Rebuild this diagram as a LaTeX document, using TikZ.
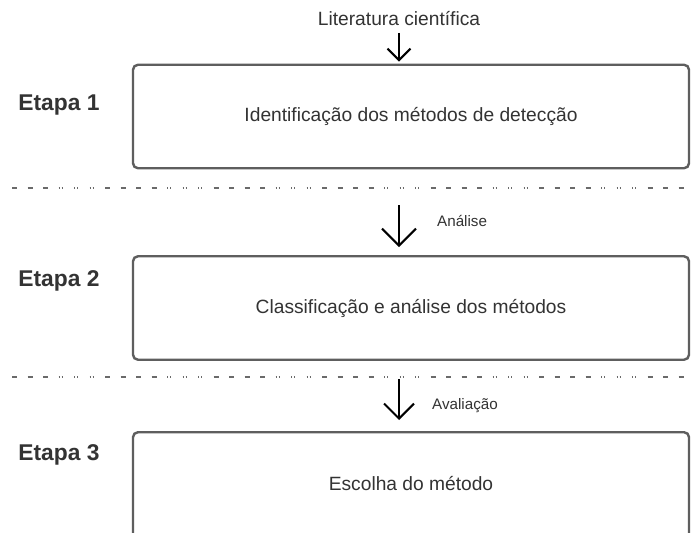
\documentclass[tikz,border=0pt]{standalone}
\usepackage{fontspec}
\setmainfont{Liberation Sans}
\usepackage{tikz}
\usetikzlibrary{arrows.meta}
\definecolor{boxgray}{HTML}{5E5E5E}
\definecolor{txtgray}{HTML}{333333}
\definecolor{sepgray}{HTML}{6A6A6A}

\begin{document}
\begin{tikzpicture}[x=1pt,y=-1pt,
        stagebox/.style={draw=boxgray,line width=2.4pt,rounded corners=5pt,
            minimum width=556pt,minimum height=103.5pt,inner sep=0pt,
            text=txtgray,font=\fontsize{19.2}{23}\selectfont},
        stagelabel/.style={text=txtgray,inner sep=0pt,
            font=\fontsize{22.8}{27}\selectfont\bfseries},
        steplabel/.style={text=txtgray,inner sep=0pt,anchor=west,
            font=\fontsize{15.2}{18}\selectfont},
        flow/.style={line width=2pt,black,-{Straight Barb[length=#1,width=2*#1,line width=2pt]}},
        sepline/.style={sepgray,line width=2.2pt,
            dash pattern=on 5pt off 10.5pt on 5pt off 10.5pt on 5pt off 10.5pt on 5pt off 10.5pt
                on 1pt off 2pt on 1pt off 11.5pt on 1pt off 2pt on 1pt off 11.5pt on 1pt off 2pt on 1pt off 11.5pt,
            dash phase=15.5pt}]

        \clip (0,0) rectangle (692,532);
        \fill[white] (0,0) rectangle (692,532);

        \node[text=txtgray,inner sep=0pt,font=\fontsize{19.2}{23}\selectfont] (lit) at (399,19) {Literatura científica};

        \node[stagebox] (box1) at (411,116.5) {Identificação dos métodos de detecção};
        \node[stagebox] (box2) at (411,308) {Classificação e análise dos métodos};
        % last box runs off the bottom edge
        \node[stagebox,anchor=north,text height=14pt,text depth=60pt,minimum height=163.5pt]
            (box3) at (411,431) {Escolha do método};

        \node[stagelabel] (etapa1) at (59,105) {Etapa 1};
        \node[stagelabel] (etapa2) at (59,281) {Etapa 2};
        \node[stagelabel] (etapa3) at (59,455) {Etapa 3};

        \coordinate (arr1) at (399,33);
        \coordinate (arr2) at (399,205);
        \coordinate (arr3) at (399,379);

        \draw[flow=11.5pt,shorten >=2pt] (arr1) -- (arr1 |- box1.north);
        \draw[flow=17pt,shorten >=8pt] (arr2) -- (arr2 |- box2.north);
        \draw[flow=15pt,shorten >=11pt] (arr3) -- (arr3 |- box3.north);

        \node[steplabel] (lbl2) at (437,221) {Análise};
        \node[steplabel] (lbl3) at (432,406) {Avaliação};

        % separators
        \coordinate (sepA) at (12,188);
        \coordinate (sepB) at (12,377);
        \draw[sepline] (sepA) -- (sepA -| 692,0);
        \draw[sepline] (sepB) -- (sepB -| 692,0);
    \end{tikzpicture}
\end{document}
